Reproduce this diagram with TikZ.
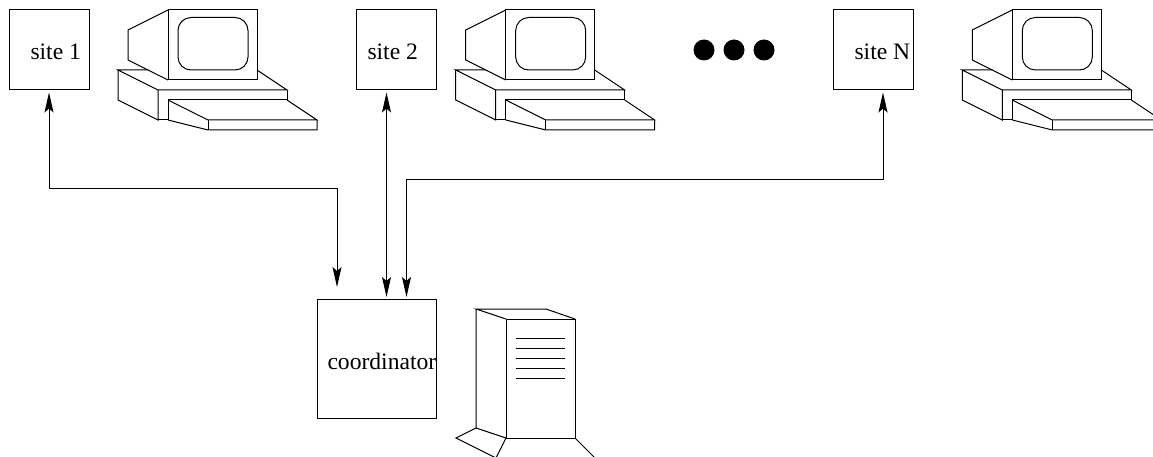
\documentclass[tikz,border=0pt]{standalone}
\usepackage{fontspec}
\setmainfont{Liberation Serif}
\usetikzlibrary{
  arrows.meta}

\tikzset{
  box/.style={draw,inner sep=0pt,minimum size=#1},
  caption/.style={anchor=base west,inner sep=0pt,font=\fontsize{23.6pt}{24pt}\selectfont},
  tip/.tip={Stealth[length=20pt,width=9pt,inset=4pt]},
  dlink/.style={tip-tip,shorten >=2pt,shorten <=2pt}
}

\begin{document}
\begin{tikzpicture}[x=1pt,y=-1pt,line width=1pt,line join=miter]
\useasboundingbox (0,0) rectangle (1153,457);

\node[box=80pt] (site1) at (49,50) {};
\node[box=80pt] (site2) at (396.5,50) {};
\node[box=80pt] (siteN) at (873,50) {};
\node[box=119pt] (coord) at (376.5,358.5) {};

\node[caption] (name1) at (30,60) {site 1};
\node[caption] (name2) at (367,60) {site 2};
\node[caption] (nameN) at (854,60) {site N};
\node[caption] (namec) at (327,369) {coordinator};

% the three computers
\foreach \x in {0,337.7,844.3}
{
\begin{scope}[xshift=\x pt]
\draw (168,10) rectangle (257,80);
\draw (168,10) -- (128,30) -- (128,60) -- (168,80);
\draw[rounded corners=13pt] (178,17.5) rectangle (248,70);
\draw (148,70) -- (118,70) -- (158,90) -- (287,90) -- (257,70);
\draw (118,70) -- (118,100) -- (158,120) -- (158,90);
\draw (287,90) -- (287,100) -- (168,100) -- (168,120) -- (158,120);
\draw (168,100) -- (208,120) -- (317,120) -- (287,100);
\draw (168,120) -- (208,130) -- (317,130) -- (317,120);
\draw (208,120) -- (208,130);
\end{scope}
}

% the server
\draw (506,319) rectangle (575,438);
\draw (506,319) -- (476,309) -- (546,309) -- (575,319);
\draw (476,309) -- (476,428) -- (506,438);
\draw (476,428) -- (456,438) -- (496,458) -- (506,438);
\draw (575,438) -- (595,458);
\foreach \y in {338.5,348.5,...,378.5}
  \draw (516,\y) -- (565,\y);

\foreach \x in {704,734,764}
  \fill (\x,50) circle[radius=10.5pt];

\coordinate (in1) at (337,287);
\coordinate (in2) at (386.5,299);
\coordinate (in3) at (406.5,299);

\draw[dlink,shorten >=0pt] (site1.south) |- (337,189) -- (in1);
\draw[dlink] (site2.south -| in2) -- (in2);
\draw[dlink] ([xshift=10pt]siteN.south) |- (406.5,179.5) -- (in3);

\end{tikzpicture}
\end{document}
